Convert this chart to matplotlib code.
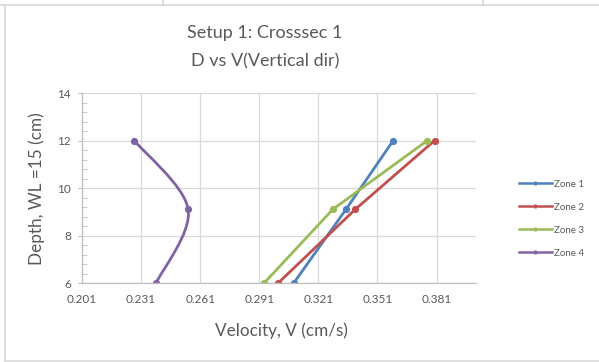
import numpy as np
import matplotlib
matplotlib.use("Agg")
import matplotlib.pyplot as plt
from matplotlib.lines import Line2D
from matplotlib.path import Path
from matplotlib.patches import PathPatch

plt.rcParams['font.family'] = ['Lato', 'DejaVu Sans']

# Depth (cm) of the three measurement points
depth = [12.0, 9.1, 6.0]

# Velocities (cm/s) per zone
zone1 = [0.359, 0.335, 0.3085]
zone2 = [0.380, 0.3397, 0.3006]
zone3 = [0.3763, 0.3283, 0.2935]
zone4 = [0.2275, 0.2549, 0.2386]

zone_names = ["Zone 1", "Zone 2", "Zone 3", "Zone 4"]
zone_colors = ["#4F81BD", "#C0504D", "#9BBB59", "#8064A2"]

x_ticks = [0.201, 0.231, 0.261, 0.291, 0.321, 0.351, 0.381]
y_ticks = [6, 8, 10, 12, 14]

W, H = 599, 362
fig = plt.figure(figsize=(W / 100, H / 100), dpi=100)
fig.patch.set_facecolor("white")

# Sheet grid and chart frame
def fline(x0, y0, x1, y1, color="#D9D9D9", lw=1.2):
    fig.add_artist(Line2D([x0 / W, x1 / W], [1 - y0 / H, 1 - y1 / H],
                          color=color, lw=lw, transform=fig.transFigure))

fline(0, 4.5, W, 4.5)
fline(163, 0, 163, 4.5)
fline(483, 0, 483, 4.5)
fline(5, 4.5, 5, H)
fline(5, 361, W, 361)

ax_l, ax_r, ax_t, ax_b = 82, 476, 93, 283
ax = fig.add_axes([ax_l / W, 1 - ax_b / H, (ax_r - ax_l) / W, (ax_b - ax_t) / H])

ax.set_xlim(0.201, 0.401)
ax.set_ylim(6, 14)
ax.set_xticks(x_ticks)
ax.set_xticklabels([f"{v:.3f}" for v in x_ticks])
ax.set_yticks(y_ticks)
ax.set_yticks(np.arange(6, 14.01, 0.4), minor=True)
ax.grid(True, which="major", color="#D9D9D9", lw=0.9)
ax.set_axisbelow(True)

for s in ["top", "right"]:
    ax.spines[s].set_visible(False)
for s in ["left", "bottom"]:
    ax.spines[s].set_color("#BFBFBF")
    ax.spines[s].set_linewidth(0.9)

ax.tick_params(axis="x", length=0, labelsize=8.5, labelcolor="#595959", pad=8)
ax.tick_params(axis="y", which="major", length=3, direction="out",
               color="#BFBFBF", labelsize=8.5, labelcolor="#595959", pad=5)
ax.tick_params(axis="y", which="minor", length=3.5, direction="in", color="#BFBFBF")

lw = 2.0
ms = 4.2
series = [zone1, zone2, zone3]
for vals, name, col in zip(series, zone_names[:3], zone_colors[:3]):
    ax.plot(vals, depth, color=col, lw=lw, marker="o", ms=ms, label=name,
            solid_capstyle="round")

# Smoothed curve for zone 4 (cubic Bezier through the points)
P = np.column_stack([zone4, depth])
n = len(P)
verts = [tuple(P[0])]
codes = [Path.MOVETO]
for i in range(n - 1):
    p0 = P[i - 1] if i > 0 else P[i]
    p1, p2 = P[i], P[i + 1]
    p3 = P[i + 2] if i + 2 < n else P[i + 1]
    c1 = p1 + (p2 - p0) / 6.0
    c2 = p2 - (p3 - p1) / 6.0
    verts += [tuple(c1), tuple(c2), tuple(p2)]
    codes += [Path.CURVE4] * 3
ax.add_patch(PathPatch(Path(verts, codes), fill=False, edgecolor=zone_colors[3],
                       lw=lw, capstyle="round"))
ax.plot(zone4, depth, ls="none", marker="o", ms=ms, color=zone_colors[3])

handles = [Line2D([], [], color=c, lw=1.8, marker="|", ms=3, mew=1.8)
           for c in zone_colors]
fig.legend(handles, zone_names, loc="upper left",
           bbox_to_anchor=(515 / W, 1 - 176 / H), frameon=False,
           fontsize=7, labelcolor="#595959", handlelength=3.4,
           handletextpad=0.2, labelspacing=1.44, borderaxespad=0)

fig.text(265 / W, 1 - 33 / H, "Setup 1: Crosssec 1", ha="center", va="center",
         fontsize=13, color="#595959")
fig.text(265 / W, 1 - 61 / H, "D vs V(Vertical dir)", ha="center", va="center",
         fontsize=13, color="#595959")
fig.text(281 / W, 1 - 331 / H, "Velocity, V (cm/s)", ha="center", va="center",
         fontsize=12.3, color="#595959")
fig.text(37 / W, 1 - 189 / H, "Depth, WL =15 (cm)", ha="center", va="center",
         rotation=90, fontsize=12.3, color="#595959")

fig.savefig("out.png", dpi=100, facecolor="white")
